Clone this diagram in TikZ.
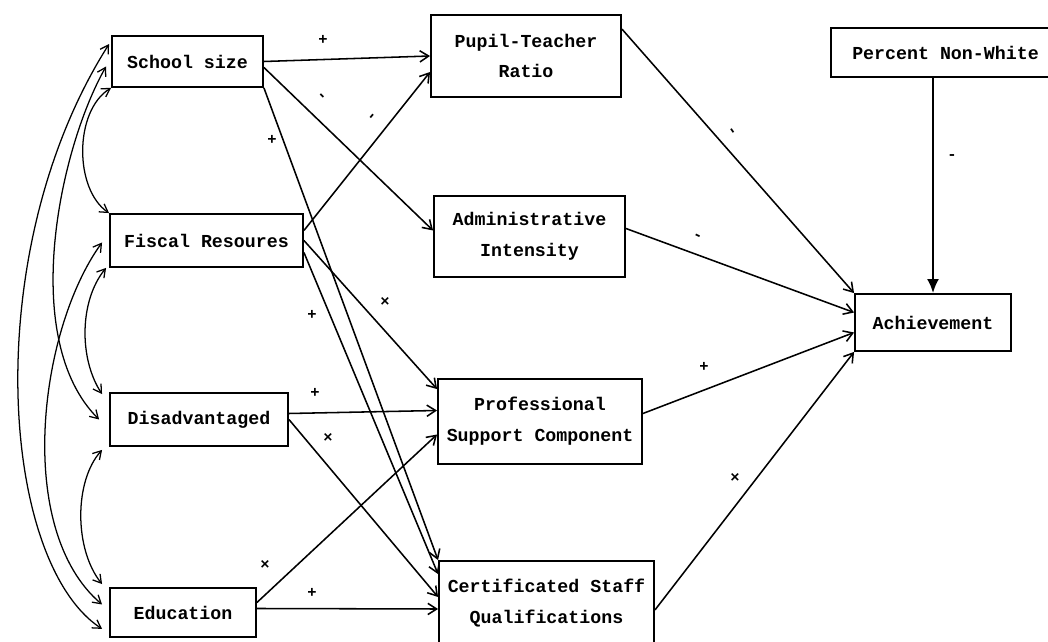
\documentclass[tikz,border=0pt]{standalone}
\usepackage{fontspec}
\setmonofont{Liberation Mono}
\usetikzlibrary{arrows.meta,calc}

\begin{document}
\begin{tikzpicture}[x=0.025cm,y=-0.025cm,
    box/.style={draw,line width=1.3pt,inner sep=0pt,align=center,
      font=\ttfamily\bfseries\fontsize{13}{22}\selectfont},
    effect/.style={line width=1.1pt,-{Straight Barb[length=2.2mm,width=2.8mm]}},
    corr/.style={line width=0.9pt,
      {Straight Barb[length=2mm,width=2.4mm]}-{Straight Barb[length=2mm,width=2.4mm]}},
    sign/.style={font=\ttfamily\bfseries\fontsize{11}{11}\selectfont,inner sep=0pt}]
  \useasboundingbox (0,0) rectangle (1048,642);

  % exogenous variables
  \node[box,minimum width=3.775cm,minimum height=1.275cm] (school) at (187.5,61.5) {School size};
  \node[box,minimum width=4.825cm,minimum height=1.325cm] (fiscal) at (206.5,240.5) {Fiscal Resoures};
  \node[box,minimum width=4.45cm,minimum height=1.325cm] (disadv) at (199,419.5) {Disadvantaged};
  \node[box,minimum width=3.65cm,minimum height=1.225cm] (educ) at (183,612.5) {Education};

  % school variables
  \node[box,minimum width=4.75cm,minimum height=2.05cm] (pupil) at (526,56) {Pupil-Teacher\\Ratio};
  \node[box,minimum width=4.775cm,minimum height=2.025cm] (admin) at (529.5,236.5) {Administrative\\Intensity};
  \node[box,minimum width=5.1cm,minimum height=2.125cm] (prof) at (540,421.5) {Professional\\Support Component};
  \node[box,minimum width=5.375cm,minimum height=2.1cm] (cert) at (546.5,603) {Certificated Staff\\Qualifications};

  % outcome
  \node[box,minimum width=5.725cm,minimum height=1.225cm] (pct) at (945.5,52.5) {Percent Non-White};
  \node[box,minimum width=3.9cm,minimum height=1.425cm] (ach) at (933,322.5) {Achievement};

  % correlations on the left
  \draw[corr] (school.south west) .. controls +(-37,23) and +(-35,-24) .. (fiscal.north west);
  \draw[corr] ($(school.north west)+(-2,9)$) .. controls +(-130,205) and +(-103,-68) .. ($(educ.south west)+(-7,-9)$);
  \draw[corr] ($(school.west)+(-5,5)$) .. controls +(-47,83) and +(-80,-80) .. ($(disadv.west)+(-10,0)$);
  \draw[corr] ($(fiscal.west)+(-7,2)$) .. controls +(-63,87) and +(-88,-75) .. ($(educ.west)+(-7,-8)$);
  \draw[corr] ($(fiscal.south west)+(-3,0)$) .. controls +(-27,33) and +(-23,-35) .. ($(disadv.north west)+(-7,2)$);
  \draw[corr] ($(disadv.south west)+(-7,3)$) .. controls +(-28,31) and +(-28,-35) .. ($(educ.north west)+(-7,-3)$);

  % paths to school variables
  \draw[effect] (school.east) -- (pupil.west);
  \draw[effect] ($(school.east)+(0,6)$) -- ($(admin.west)+(0,-6)$);
  \draw[effect] (school.south east) -- (cert.north west);
  \draw[effect] ($(fiscal.east)+(0,-10)$) -- ($(pupil.west)+(0,16)$);
  \draw[effect] (fiscal.east) -- ($(prof.north west)+(0,11)$);
  \draw[effect] ($(fiscal.east)+(0,12)$) -- ($(cert.north west)+(0,14)$);
  \draw[effect] ($(disadv.east)+(0,-6)$) -- ($(prof.west)+(0,-11)$);
  \draw[effect] (disadv.east) -- ($(cert.west)+(0,-6)$);
  \draw[effect] ($(educ.east)+(0,-10)$) -- ($(prof.west)+(0,13)$);
  \draw[effect] ($(educ.east)+(0,-4)$) -- ($(cert.west)+(0,6)$);

  % paths to achievement
  \draw[effect] ($(pupil.north east)+(0,15)$) -- (ach.north west);
  \draw[effect] ($(admin.east)+(0,-8)$) -- ($(ach.west)+(0,-10)$);
  \draw[effect] ($(prof.east)+(0,-8)$) -- ($(ach.west)+(0,10)$);
  \draw[effect] ($(cert.east)+(0,7)$) -- (ach.south west);
  \draw[line width=1.6pt,-{Latex[length=3.5mm,width=3mm]}] (pct.south -| ach.north) -- (ach.north);

  % signs
  \node[sign] (s1) at (323,40) {+};
  \node[sign,rotate=-45] (s2) at (321,97) {-};
  \node[sign] (s3) at (272,140) {+};
  \node[sign,rotate=50] (s4) at (373,117) {-};
  \node[sign] (s5) at (385,302) {×};
  \node[sign] (s6) at (312,315) {+};
  \node[sign] (s7) at (315,393) {+};
  \node[sign] (s8) at (328,438) {×};
  \node[sign] (s9) at (265,565) {×};
  \node[sign] (s10) at (312,593) {+};
  \node[sign,rotate=-55] (s11) at (731,132) {-};
  \node[sign,rotate=-25] (s12) at (697,237) {-};
  \node[sign] (s13) at (704,367) {+};
  \node[sign] (s14) at (735,478) {×};
  \node[sign] (s15) at (952,157) {-};
\end{tikzpicture}
\end{document}
